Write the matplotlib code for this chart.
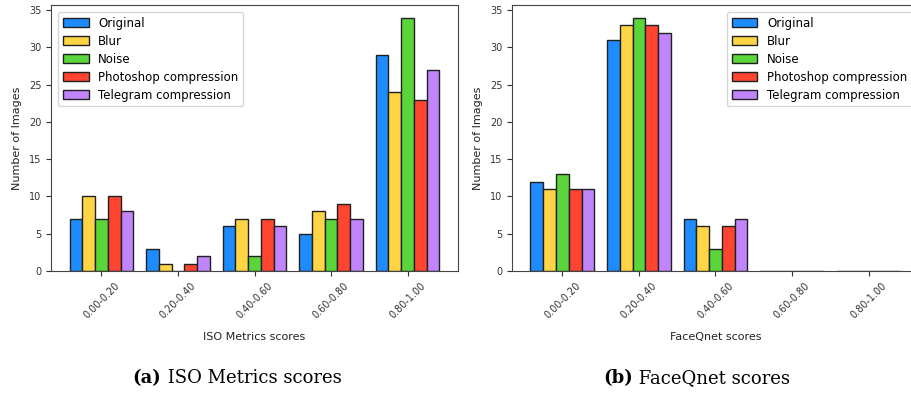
import numpy as np
import matplotlib
matplotlib.use("Agg")
import matplotlib.pyplot as plt

# Score bins and degradation types
bins = ["0.00-0.20", "0.20-0.40", "0.40-0.60", "0.60-0.80", "0.80-1.00"]
series_names = ["Original", "Blur", "Noise", "Photoshop compression", "Telegram compression"]

# Number of images per bin for each degradation (ISO Metrics)
iso_original = [7, 3, 6, 5, 29]
iso_blur = [10, 1, 7, 8, 24]
iso_noise = [7, 0, 2, 7, 34]
iso_photoshop = [10, 1, 7, 9, 23]
iso_telegram = [8, 2, 6, 7, 27]

# Number of images per bin for each degradation (FaceQnet)
fq_original = [12, 31, 7, 0, 0]
fq_blur = [11, 33, 6, 0, 0]
fq_noise = [13, 34, 3, 0, 0]
fq_photoshop = [11, 33, 6, 0, 0]
fq_telegram = [11, 32, 7, 0, 0]

colors = ["#1e8cff", "#ffd545", "#5bd63a", "#ff4530", "#c185fb"]

fig = plt.figure(figsize=(9.12, 3.94), dpi=100)
W, H = 912, 394

def axes_px(x0, y_top, x1, y_bot):
    return fig.add_axes([x0 / W, 1 - y_bot / H, (x1 - x0) / W, (y_bot - y_top) / H])

ax1 = axes_px(51, 5, 458, 271)
ax2 = axes_px(512, 5, 919, 271)

def draw(ax, data, xlabel, legend_loc):
    x = np.arange(len(bins))
    w = 1 / 6
    for i, (name, vals) in enumerate(zip(series_names, data)):
        ax.bar(x + (i - 2) * w, vals, width=w, color=colors[i],
               edgecolor="#202020", linewidth=1.0, label=name)
    ax.set_xticks(x)
    ax.set_xticklabels(bins, rotation=45, fontsize=7, color="#333333")
    ax.set_yticks(np.arange(0, 36, 5))
    ax.tick_params(axis="y", labelsize=7, colors="#333333")
    ax.tick_params(axis="x", colors="#333333")
    ax.tick_params(axis="both", length=3.5, color="#333333")
    ax.set_ylabel("Number of Images", fontsize=8, color="#222222", labelpad=5)
    ax.set_xlabel(xlabel, fontsize=8, color="#222222", labelpad=8)
    for s in ax.spines.values():
        s.set_color("#444444")
    ax.legend(loc=legend_loc, fontsize=8.5, handlelength=2.2, handleheight=0.8,
              labelspacing=0.42, borderaxespad=0.6, framealpha=0.8)

draw(ax1, [iso_original, iso_blur, iso_noise, iso_photoshop, iso_telegram],
     "ISO Metrics scores", "upper left")
draw(ax2, [fq_original, fq_blur, fq_noise, fq_photoshop, fq_telegram],
     "FaceQnet scores", "upper right")

# Sub-figure captions with a bold tag
fig.canvas.draw()
renderer = fig.canvas.get_renderer()

def caption(cx, cy, tag, text):
    kw = dict(fontsize=13, family="DejaVu Serif", va="center")
    t1 = fig.text(0, cy / H, tag, fontweight="bold", ha="left", **kw)
    t2 = fig.text(0, cy / H, " " + text, ha="left", **kw)
    w1 = t1.get_window_extent(renderer).width
    w2 = t2.get_window_extent(renderer).width
    start = cx - (w1 + w2) / 2
    t1.set_x(start / W)
    t2.set_x((start + w1) / W)

caption(237, H - 378, "(a)", "ISO Metrics scores")
caption(697, H - 378, "(b)", "FaceQnet scores")

fig.savefig("out.png", dpi=100)
